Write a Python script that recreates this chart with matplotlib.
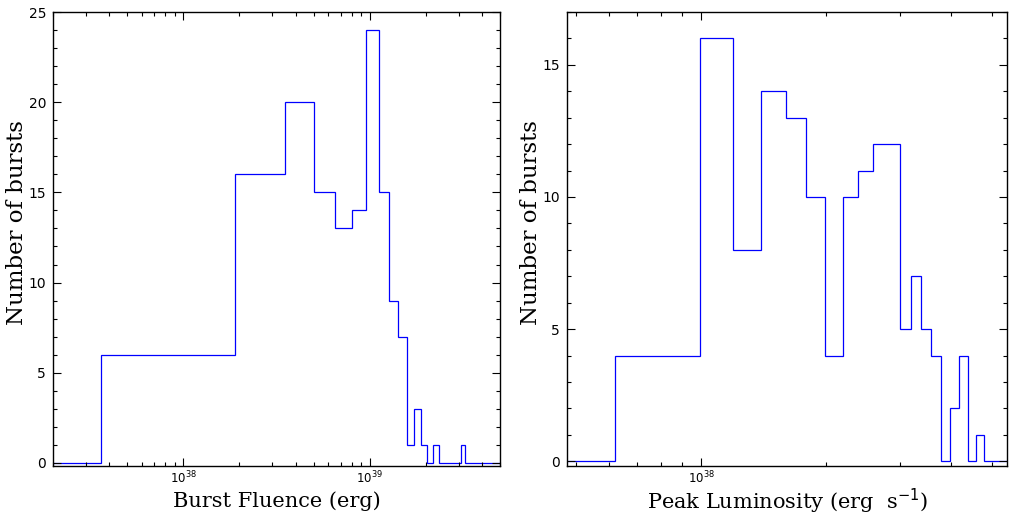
import numpy as np
import matplotlib
matplotlib.use("Agg")
import matplotlib.pyplot as plt
from matplotlib.ticker import LogLocator, NullFormatter, MultipleLocator, FixedLocator, FixedFormatter

# Burst fluence histogram (erg): bin edges and counts
fluence_edges = [3.61e37, 1.89e38, 3.50e38, 5.01e38, 6.49e38, 8.07e38, 9.59e38,
                 1.122e39, 1.268e39, 1.418e39, 1.585e39, 1.722e39, 1.877e39,
                 2.028e39, 2.184e39, 2.342e39, 2.49e39, 2.64e39, 2.79e39,
                 2.94e39, 3.10e39, 3.256e39]
fluence_counts = [6, 16, 20, 15, 13, 14, 24, 15, 9, 7, 1, 3, 1, 0, 1, 0, 0, 0, 0, 0, 1]
fluence_xlim = (2.0e37, 5.0e39)
fluence_ylim = (-0.17, 25)
fluence_ticklabels = {1e38: r"$10^{38}$", 1e39: r"$10^{39}$"}

# Peak luminosity histogram (erg/s): bin edges and counts
lum_edges = [6.2e37, 8.1e37, 9.92e37, 1.192e38, 1.39e38, 1.596e38, 1.784e38,
             1.982e38, 2.19e38, 2.38e38, 2.587e38, 2.795e38, 3.005e38, 3.19e38,
             3.375e38, 3.57e38, 3.77e38, 3.96e38, 4.17e38, 4.38e38, 4.58e38,
             4.79e38]
lum_counts = [4, 4, 16, 8, 14, 13, 10, 4, 10, 11, 12, 12, 5, 7, 5, 4, 0, 2, 4, 0, 1]
lum_xlim = (4.76e37, 5.44e38)
lum_ylim = (-0.18, 17)
lum_ticklabels = {1e38: r"$10^{38}$"}

W, H = 1010, 518
fig = plt.figure(figsize=(W / 100, H / 100), dpi=100)

serif = ["DejaVu Serif"]


def panel(rect, edges, counts, xlim, ylim, xlabels, xlabel, ylab_x):
    ax = fig.add_axes(rect)
    e = np.concatenate([[xlim[0]], edges, [xlim[1]]])
    c = np.concatenate([[0], counts, [0]])
    ax.stairs(c, e, baseline=None, color="#0000ff", linewidth=0.9)
    ax.set_xscale("log")
    ax.set_xlim(*xlim)
    ax.set_ylim(*ylim)
    ax.xaxis.set_major_locator(FixedLocator(list(xlabels.keys())))
    ax.xaxis.set_major_formatter(FixedFormatter(list(xlabels.values())))
    ax.xaxis.set_minor_locator(LogLocator(base=10, subs=np.arange(2, 10), numticks=20))
    ax.xaxis.set_minor_formatter(NullFormatter())
    ax.yaxis.set_major_locator(MultipleLocator(5))
    ax.yaxis.set_minor_locator(MultipleLocator(1))
    ax.tick_params(which="both", direction="in", top=True, right=True, width=0.8)
    ax.tick_params(which="major", length=6)
    ax.tick_params(which="minor", length=3)
    ax.tick_params(axis="y", labelsize=10, pad=5)
    ax.tick_params(axis="x", labelsize=8.5, pad=3)
    for s in ax.spines.values():
        s.set_linewidth(1.0)
    ax.set_xlabel(xlabel, family=serif, fontsize=15, va="center")
    ax.xaxis.set_label_coords(0.5, -0.078)
    ax.set_ylabel("Number of bursts", family=serif, fontsize=16.5, va="center")
    ax.yaxis.set_label_coords(ylab_x, 0.537)
    return ax


ax1 = panel([53 / W, 1 - 466 / H, (500 - 53) / W, (466 - 12) / H],
            fluence_edges, fluence_counts, fluence_xlim, fluence_ylim,
            fluence_ticklabels, "Burst Fluence (erg)", -0.081)
ax2 = panel([567 / W, 1 - 466 / H, (1007 - 567) / W, (466 - 12) / H],
            lum_edges, lum_counts, lum_xlim, lum_ylim,
            lum_ticklabels, r"Peak Luminosity (erg  s$^{-1}$)", -0.081)

fig.savefig("out.png", dpi=100)
